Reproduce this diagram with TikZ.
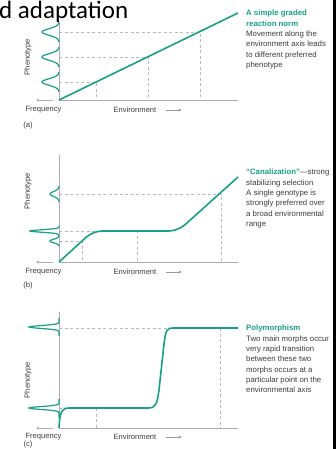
\documentclass[tikz,border=0pt]{standalone}
\usepackage{fontspec}
\setmainfont{Liberation Sans}
\newfontfamily\titlefont{Carlito}
\usetikzlibrary{arrows.meta}

\definecolor{normteal}{RGB}{24,160,134}
\definecolor{notegray}{RGB}{60,60,60}
\newcommand{\headline}[1]{\textcolor{normteal}{\textbf{#1}}}

\begin{document}
\begin{tikzpicture}[x=1pt, y=-1pt,
    axisline/.style={gray!65, line width=0.9pt},
    guide/.style={gray!55, line width=0.6pt, dash pattern=on 3pt off 2.5pt},
    norm/.style={normteal, line width=1.6pt},
    dist/.style={normteal, line width=1.2pt},
    lbl/.style={text=notegray, font=\fontsize{7.6}{9}\selectfont, inner sep=0pt},
    note/.style={text=notegray, font=\fontsize{7.8}{10.3}\selectfont, align=left, anchor=north west, inner sep=0pt}]
    \fill[white] (0,0) rectangle (336,449);
    \useasboundingbox (0,0) rectangle (336,449);

    \node[anchor=base west, inner sep=0pt, font=\titlefont\fontsize{25}{30}\selectfont] (title) at (-1,18.5) {d adaptation};

    % (a) a simple graded reaction norm
    \foreach \px/\py in {96/82, 148/57, 200/32}
        \draw[guide] (59,\py) -- (\px,\py) -- (\px,100);
    \draw[axisline] (59,22) -- (59,100) -- (238,100);
    \draw[axisline, -{Stealth[length=3pt,width=3pt]}] (53,100) -- (36,100);
    \draw[norm] (59,100) -- (238,13);
    \foreach \py in {32, 57, 82}
        \draw[dist] plot[domain=-10:10, samples=51] ({59-17*exp(-(\x*\x)/20)}, {\py+\x});
    \node[lbl, rotate=90] (phenoA) at (28,57) {Phenotype};
    \node[lbl] (freqA) at (43.5,110) {Frequency};
    \node[lbl] (envA) at (135,110) {Environment};
    \draw[gray!80, -{Stealth[length=3pt,width=3pt]}] ([xshift=9pt]envA.east) -- ++(16,0);
    \node[lbl] (tagA) at (28,126) {(a)};
    \node[note] (noteA) at (246,10) {\headline{A simple graded}\\ \headline{reaction norm}\\ Movement along the\\ environment axis leads\\ to different preferred\\ phenotype};

    % (b) canalization
    \foreach \px/\py in {82/241, 137/231, 221/194}
        \draw[guide] (59,\py) -- (\px,\py) -- (\px,262);
    \draw[axisline] (59,155) -- (59,262) -- (238,262);
    \draw[axisline, -{Stealth[length=3pt,width=3pt]}] (53,262) -- (36,262);
    \draw[norm, rounded corners=9pt] (59,262) -- (93,231) -- (178,231) -- (238,177);
    \foreach \py/\ph/\pk/\pw in {194/9/12/8, 231/29/3/5, 241/9/6/5}
        \draw[dist] plot[domain=-\pw:\pw, samples=41] ({59-\ph*exp(-(\x*\x)/\pk)}, {\py+\x});
    \node[lbl, rotate=90] (phenoB) at (28,191) {Phenotype};
    \node[lbl] (freqB) at (43.5,272) {Frequency};
    \node[lbl] (envB) at (135,272) {Environment};
    \draw[gray!80, -{Stealth[length=3pt,width=3pt]}] ([xshift=9pt]envB.east) -- ++(16,0);
    \node[lbl] (tagB) at (28,286) {(b)};
    \node[note] (noteB) at (246,169) {\headline{“Canalization”}—strong\\ stabilizing selection\\ A single genotype is\\ strongly preferred over\\ a broad environmental\\ range};

    % (c) polymorphism
    \draw[guide] (59,328) -- (172,328);
    \draw[guide] (220,328) -- (220,428);
    \draw[guide] (59,408) -- (68,408);
    \draw[guide] (96,408) -- (96,428);
    \draw[axisline] (59,312) -- (59,428) -- (238,428);
    \draw[axisline, -{Stealth[length=3pt,width=3pt]}] (53,428) -- (36,428);
    \draw[norm] (59,428) .. controls (60,410) and (62,408) .. (70,408) -- (148,408)
        .. controls (156,408) and (157,404) .. (159,390) -- (164,344)
        .. controls (166,330) and (166,328) .. (174,328) -- (238,328);
    \foreach \py in {327, 408}
        \draw[dist] plot[domain=-9:9, samples=51] ({59-30*exp(-(\x*\x)/4)}, {\py+\x});
    \node[lbl, rotate=90] (phenoC) at (28,380) {Phenotype};
    \node[lbl] (freqC) at (43.5,437) {Frequency};
    \node[lbl] (envC) at (135,437) {Environment};
    \draw[gray!80, -{Stealth[length=3pt,width=3pt]}] ([xshift=9pt]envC.east) -- ++(16,0);
    \node[lbl] (tagC) at (28,444.5) {(c)};
    \node[note] (noteC) at (246,325) {\headline{Polymorphism}\\ Two main morphs occur\\ very rapid transition\\ between these two\\ morphs occurs at a\\ particular point on the\\ environmental axis};

    % edge of the screen
    \fill[black] (332.5,0) rectangle (336,449);
\end{tikzpicture}
\end{document}
